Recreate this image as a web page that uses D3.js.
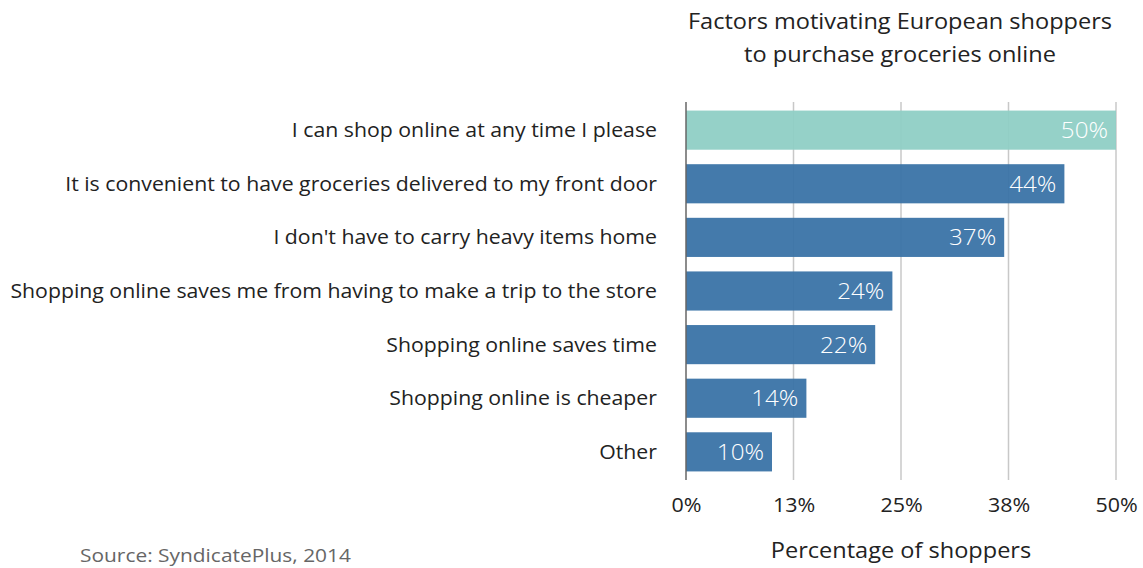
<!DOCTYPE html>
<html>
<head>
<meta charset="utf-8">
<script src="https://cdn.jsdelivr.net/npm/d3@7"></script>
<style>
  html, body { margin: 0; padding: 0; background: #fff; }
  svg { display: block; font-family: "Open Sans", Lato, sans-serif; }
</style>
</head>
<body>
<svg id="chart" width="1143" height="568"></svg>
<script>
// Survey answers (top to bottom) and share of shoppers choosing each
const categories = [
  "I can shop online at any time I please",
  "It is convenient to have groceries delivered to my front door",
  "I don't have to carry heavy items home",
  "Shopping online saves me from having to make a trip to the store",
  "Shopping online saves time",
  "Shopping online is cheaper",
  "Other"
];
const values = [50, 44, 37, 24, 22, 14, 10];
const tickValues = [0, 12.5, 25, 37.5, 50];
const tickLabels = ["0%", "13%", "25%", "38%", "50%"];
const titleLines = ["Factors motivating European shoppers", "to purchase groceries online"];
const axisTitle = "Percentage of shoppers";
const sourceText = "Source: SyndicatePlus, 2014";

const svg = d3.select("#chart");
const plotLeft = 686, plotRight = 1116, plotTop = 102, plotBottom = 480;

const x = d3.scaleLinear().domain([0, 50]).range([plotLeft, plotRight]);
const y = d3.scaleBand().domain(categories).range([plotTop, plotBottom])
  .paddingInner(0.27).paddingOuter(0.16);

// Give the text a slightly wider, rounder set width
function widen(sel, k) {
  sel.each(function () {
    const w = this.getComputedTextLength();
    d3.select(this).attr("textLength", w * k).attr("lengthAdjust", "spacingAndGlyphs");
  });
}

// Title
svg.append("g").selectAll("text").data(titleLines).join("text")
  .attr("x", 900).attr("y", (d, i) => 29 + i * 33)
  .attr("text-anchor", "middle")
  .attr("font-size", 22).attr("fill", "#222")
  .text(d => d)
  .call(widen, 1.07);

// Vertical gridlines
svg.append("g").selectAll("line").data(tickValues.slice(1)).join("line")
  .attr("x1", d => x(d)).attr("x2", d => x(d))
  .attr("y1", plotTop).attr("y2", plotBottom)
  .attr("stroke", "#c8c8c8").attr("stroke-width", 1.5);

// Bars
svg.append("g").selectAll("rect").data(values).join("rect")
  .attr("x", x(0))
  .attr("y", (d, i) => y(categories[i]))
  .attr("width", d => x(d) - x(0))
  .attr("height", y.bandwidth())
  .attr("fill", (d, i) => i === 0 ? "#8fcfc5" : "#3a73a6")
  .attr("fill-opacity", 0.95);

// Value labels inside bar ends
svg.append("g").selectAll("text").data(values).join("text")
  .attr("x", d => x(d) - 8)
  .attr("y", (d, i) => y(categories[i]) + y.bandwidth() / 2)
  .attr("dy", "0.36em")
  .attr("text-anchor", "end")
  .attr("font-size", 22).attr("font-weight", 300)
  .attr("fill", "#fff")
  .text(d => d + "%")
  .call(widen, 1.1);

// Category labels
svg.append("g").selectAll("text").data(categories).join("text")
  .attr("x", 657)
  .attr("y", d => y(d) + y.bandwidth() / 2)
  .attr("dy", "0.36em")
  .attr("text-anchor", "end")
  .attr("font-size", 19.5).attr("fill", "#222")
  .text(d => d)
  .call(widen, 1.09);

// Baseline axis line
svg.append("line")
  .attr("x1", x(0)).attr("x2", x(0))
  .attr("y1", plotTop).attr("y2", plotBottom)
  .attr("stroke", "#666").attr("stroke-width", 1.5);

// X axis tick labels
const xAxis = d3.axisBottom(x).tickValues(tickValues)
  .tickFormat((d, i) => tickLabels[i]).tickSize(0).tickPadding(0);
const gx = svg.append("g").attr("transform", `translate(0,${plotBottom})`).call(xAxis);
gx.select(".domain").remove();
gx.selectAll("text")
  .attr("y", 32).attr("dy", 0)
  .attr("font-family", "'Open Sans', Lato, sans-serif")
  .attr("font-size", 19.5).attr("fill", "#222")
  .call(widen, 1.1);

// Axis title
svg.append("text")
  .attr("x", 901).attr("y", 558)
  .attr("text-anchor", "middle")
  .attr("font-size", 21.5).attr("fill", "#222")
  .text(axisTitle)
  .call(widen, 1.095);

// Source note
svg.append("text")
  .attr("x", 80).attr("y", 562)
  .attr("font-size", 19).attr("fill", "#666")
  .text(sourceText)
  .call(widen, 1.1);
</script>
</body>
</html>
